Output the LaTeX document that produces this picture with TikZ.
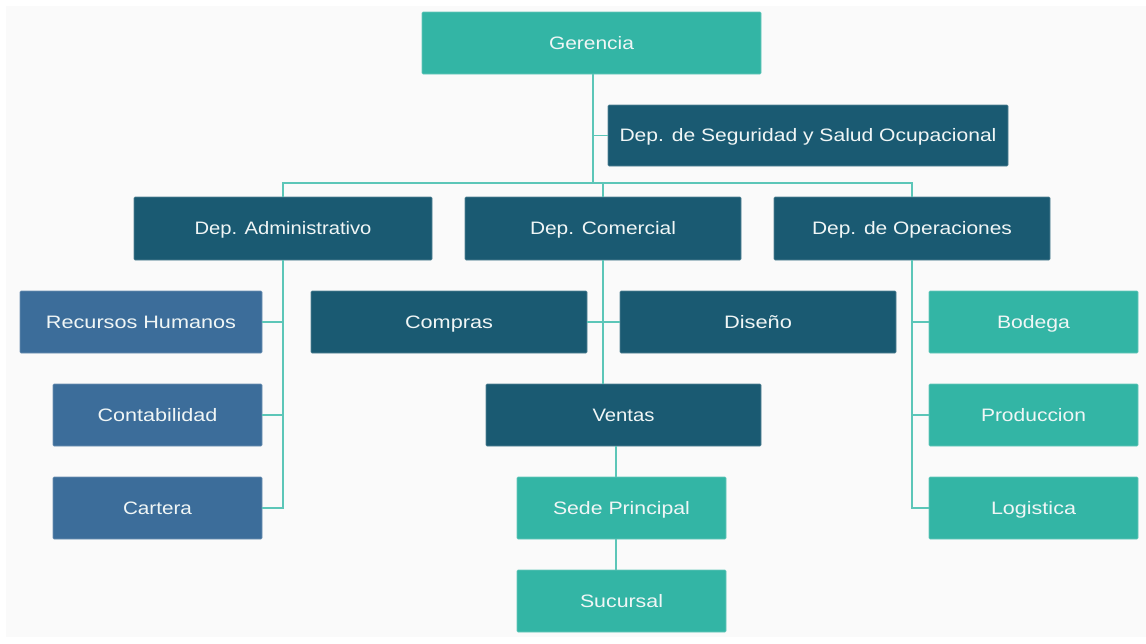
\documentclass[tikz,border=0pt]{standalone}
\usepackage{fontspec}
\setmainfont{Liberation Sans}
\definecolor{tealbox}{HTML}{33B5A5}
\definecolor{darkbox}{HTML}{1A5A72}
\definecolor{steelbox}{HTML}{3C6D9A}
\definecolor{conn}{HTML}{5CC6B8}
\definecolor{bgc}{HTML}{FAFAFA}
\definecolor{txt}{HTML}{F0F6F6}
\newlength\twlen
\newcommand\tw[2]{\settowidth\twlen{#2}\pgfmathsetmacro\twf{#1/\twlen}%
  \edef\twdo{\noexpand\addfontfeature{FakeStretch=\twf}}{\twdo #2}}
\begin{document}
\begin{tikzpicture}[x=1pt,y=-1pt,
  box/.style={draw=#1!75!white, fill=#1, line width=0.6pt, rounded corners=1pt,
    text=txt, font=\fontsize{18}{20}\selectfont, inner sep=0pt, minimum height=62pt,
    text height=12.9pt, text depth=0pt},
  link/.style={draw=conn, line width=1.6pt}]
\useasboundingbox (0,0) rectangle (1146,643);
\fill[white] (0,0) rectangle (1146,643);
\fill[bgc] (6,6) rectangle (1146,637);

\node[box=tealbox, minimum width=339pt] (ger) at (591.5,43) {\tw{85}{Gerencia}};
\node[box=darkbox, minimum width=400pt, minimum height=61pt] (seg) at (808,135.5) {\tw{377}{Dep. de Seguridad y Salud Ocupacional}};
\node[box=darkbox, minimum width=298pt, minimum height=63pt] (adm) at (283,228.5) {\tw{177}{Dep. Administrativo}};
\node[box=darkbox, minimum width=276pt, minimum height=63pt] (com) at (603,228.5) {\tw{146}{Dep. Comercial}};
\node[box=darkbox, minimum width=276pt, minimum height=63pt] (ope) at (912,228.5) {\tw{200}{Dep. de Operaciones}};

\node[box=steelbox, minimum width=242pt] (rh) at (141,322) {\tw{190}{Recursos Humanos}};
\node[box=steelbox, minimum width=209pt] (cont) at (157.5,415) {\tw{120}{Contabilidad}};
\node[box=steelbox, minimum width=209pt] (cart) at (157.5,508) {\tw{69}{Cartera}};

\node[box=darkbox, minimum width=276pt] (compras) at (449,322) {\tw{88}{Compras}};
\node[box=darkbox, minimum width=276pt] (dis) at (758,322) {\tw{68}{Diseño}};
\node[box=darkbox, minimum width=275pt] (ven) at (623.5,415) {\tw{62}{Ventas}};
\node[box=tealbox, minimum width=209pt] (sede) at (621.5,508) {\tw{137}{Sede Principal}};
\node[box=tealbox, minimum width=209pt] (suc) at (621.5,601) {\tw{83}{Sucursal}};

\node[box=tealbox, minimum width=209pt] (bod) at (1033.5,322) {\tw{73}{Bodega}};
\node[box=tealbox, minimum width=209pt] (prod) at (1033.5,415) {\tw{105}{Produccion}};
\node[box=tealbox, minimum width=209pt] (log) at (1033.5,508) {\tw{85}{Logistica}};

\coordinate (bus) at (593,183);
\coordinate (vx) at (616,0);

\draw[link] (ger.south -| bus) -- (bus);
\draw[link] (seg.west) -- (seg.west -| bus);
\draw[link] (adm.north) -- (adm.north |- bus) -- (ope.north |- bus) -- (ope.north);
\draw[link] (com.north) -- (com.north |- bus);

\draw[link] (adm.south) -- (adm.south |- cart.east) -- (cart.east);
\draw[link] (rh.east) -- (rh.east -| adm.south);
\draw[link] (cont.east) -- (cont.east -| adm.south);

\draw[link] (com.south) -- (com.south |- ven.north);
\draw[link] (compras.east) -- (dis.west);
\draw[link] (ven.south -| vx) -- (sede.north -| vx);
\draw[link] (sede.south -| vx) -- (suc.north -| vx);

\draw[link] (ope.south) -- (ope.south |- log.west) -- (log.west);
\draw[link] (bod.west) -- (bod.west -| ope.south);
\draw[link] (prod.west) -- (prod.west -| ope.south);
\end{tikzpicture}
\end{document}
